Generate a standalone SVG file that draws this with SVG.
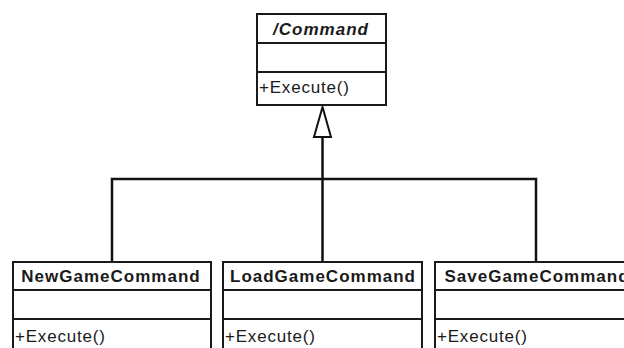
<svg xmlns="http://www.w3.org/2000/svg" width="624" height="348" viewBox="0 0 624 348">
<style>
.box{fill:#fff;stroke:#1a1a1a;stroke-width:2}
.sep{stroke:#1a1a1a;stroke-width:2}
.name{font-family:"Liberation Sans",Arial,sans-serif;font-size:17px;font-weight:bold;letter-spacing:1px;fill:#1a1a1a;text-anchor:middle}
.op{font-family:"Liberation Sans",Arial,sans-serif;font-size:17px;letter-spacing:0.8px;fill:#1a1a1a}
.conn{fill:none;stroke:#111;stroke-width:2.5}
</style>
<rect width="624" height="348" fill="#fff"/>
<g id="connectors">
<polyline class="conn" points="112,262 112,179 536,179 536,262"/>
<line class="conn" x1="322.5" y1="262" x2="322.5" y2="137"/>
<polygon points="322.5,107 314,137 331,137" fill="#fff" stroke="#111" stroke-width="2"/>
</g>
<g id="Command">
<rect class="box" x="257" y="14" width="129" height="91"/>
<line class="sep" x1="257" y1="43" x2="386" y2="43"/>
<line class="sep" x1="257" y1="72" x2="386" y2="72"/>
<text class="name" x="321" y="35" font-style="italic">/Command</text>
<text class="op" x="259" y="93">+Execute()</text>
</g>
<g id="NewGameCommand">
<rect class="box" x="13" y="262" width="198" height="100"/>
<line class="sep" x1="13" y1="290" x2="211" y2="290"/>
<line class="sep" x1="13" y1="319" x2="211" y2="319"/>
<text class="name" x="111" y="282">NewGameCommand</text>
<text class="op" x="15" y="342">+Execute()</text>
</g>
<g id="LoadGameCommand">
<rect class="box" x="223" y="262" width="199" height="100"/>
<line class="sep" x1="223" y1="290" x2="422" y2="290"/>
<line class="sep" x1="223" y1="319" x2="422" y2="319"/>
<text class="name" x="323" y="282">LoadGameCommand</text>
<text class="op" x="225" y="342">+Execute()</text>
</g>
<g id="SaveGameCommand">
<rect class="box" x="435" y="262" width="202" height="100"/>
<line class="sep" x1="435" y1="290" x2="637" y2="290"/>
<line class="sep" x1="435" y1="319" x2="637" y2="319"/>
<text class="name" x="537" y="282">SaveGameCommand</text>
<text class="op" x="437" y="342">+Execute()</text>
</g>
</svg>
